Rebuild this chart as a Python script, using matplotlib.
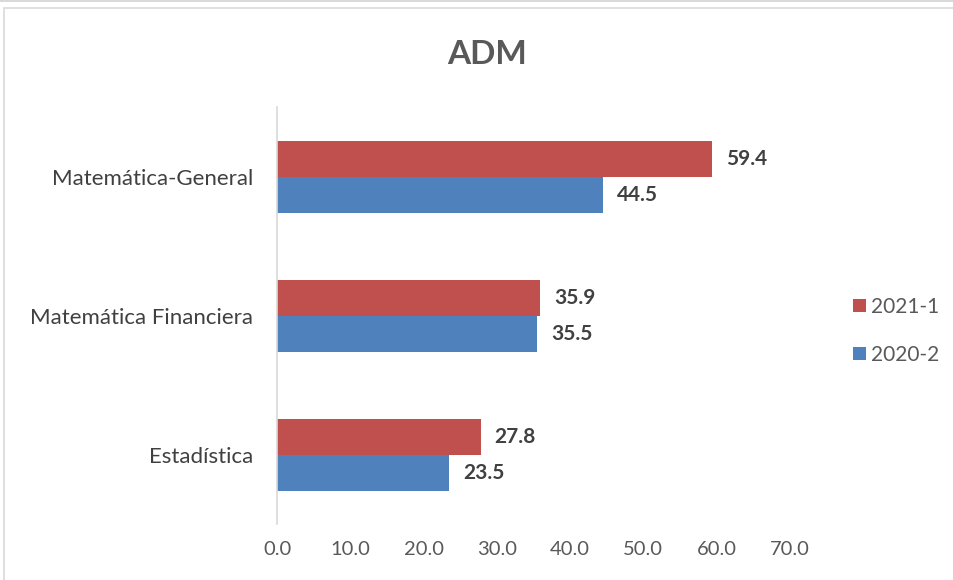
import matplotlib.pyplot as plt
import numpy as np
from matplotlib.patches import Rectangle

categorias = ['Estadística', 'Matemática Financiera', 'Matemática-General']
serie_2021_1 = [27.8, 35.9, 59.4]
serie_2020_2 = [23.5, 35.5, 44.5]
xticks = [0, 10, 20, 30, 40, 50, 60, 70]

rojo = '#C0504D'
azul = '#4F81BD'
gris = '#595959'
plt.rcParams['font.family'] = ['Lato', 'DejaVu Sans']

fig = plt.figure(figsize=(9.54, 5.8), dpi=100)
ax = fig.add_axes([0.2904, 0.0957, 0.828 - 0.2904, 0.8147 - 0.0957])

# marco del grafico
fig.patches.append(Rectangle((4 / 954, -0.01), 1.0, 1 - 8 / 580 + 0.01,
                             transform=fig.transFigure, fill=False,
                             edgecolor='#D9D9D9', linewidth=1.2))
fig.patches.append(Rectangle((0, 1 - 2 / 580), 1, 2 / 580, transform=fig.transFigure,
                             color='#D9D9D9', linewidth=0))

y = np.arange(len(categorias))
h = 0.26
b1 = ax.barh(y + h / 2, serie_2021_1, height=h, color=rojo, label='2021-1')
b2 = ax.barh(y - h / 2, serie_2020_2, height=h, color=azul, label='2020-2')

for barras in (b1, b2):
    for r in barras:
        ax.annotate(f'{r.get_width():.1f}', (r.get_width(), r.get_y() + r.get_height() / 2),
                    xytext=(10, 0), textcoords='offset points', va='center', ha='left',
                    fontsize=15, fontweight='bold', color='#404040')

ax.set_xlim(0, 70)
ax.set_ylim(-0.5, 2.5)
ax.set_yticks(y)
ax.set_yticklabels(categorias, fontsize=16, color='#404040')
ax.set_xticks(xticks)
ax.set_xticklabels([f'{v:.1f}' for v in xticks], fontsize=14.5, color=gris)
ax.tick_params(axis='both', length=0)
ax.tick_params(axis='y', pad=17)
ax.tick_params(axis='x', pad=12)

for s in ('top', 'right', 'bottom'):
    ax.spines[s].set_visible(False)
ax.spines['left'].set_color('#D9D9D9')
ax.spines['left'].set_linewidth(1.2)

fig.text(487 / 954, 1 - 54 / 580, 'ADM', ha='center', va='center',
         fontsize=24, fontweight='bold', color=gris)

handles = [b1, b2]
ax.legend(handles, ['2021-1', '2020-2'], loc='center left', bbox_to_anchor=(843 / 954, 1 - 331 / 580),
          bbox_transform=fig.transFigure, frameon=False, fontsize=15,
          handlelength=0.6, handleheight=0.6, handletextpad=0.25, labelspacing=1.35,
          labelcolor=gris, borderpad=0)

fig.savefig('out.png', dpi=100)
